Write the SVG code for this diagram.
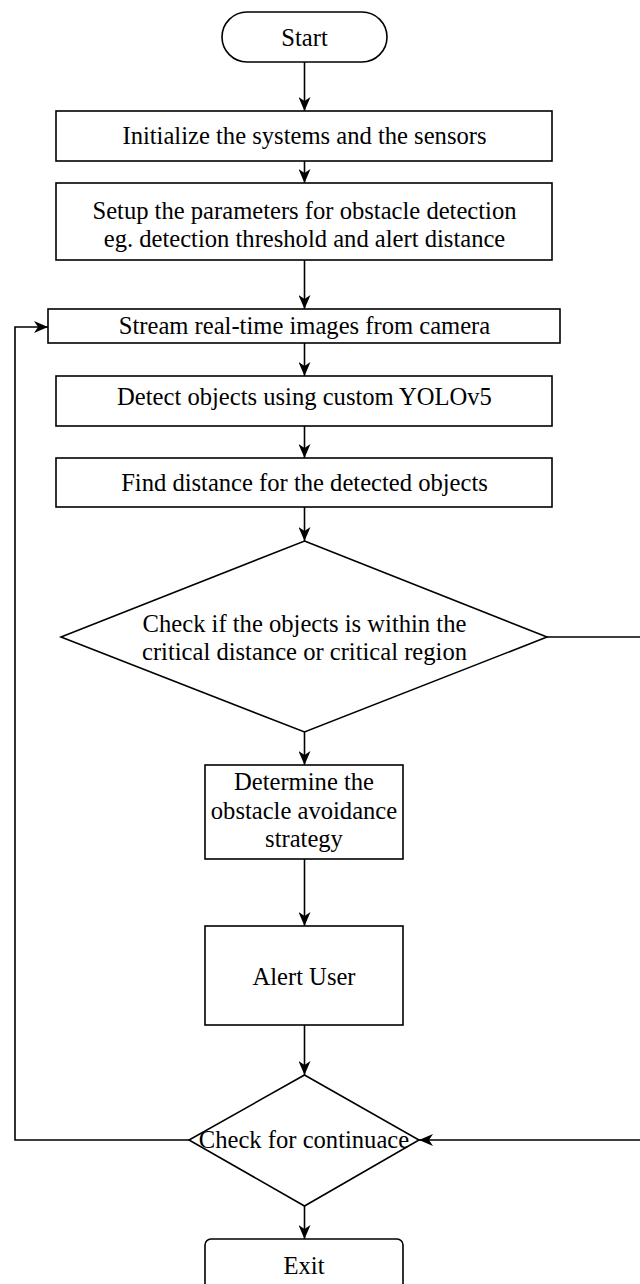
<svg xmlns="http://www.w3.org/2000/svg" width="640" height="1284" viewBox="0 0 640 1284">
  <style>
    .shape { fill: #ffffff; stroke: #000000; stroke-width: 1.6; }
    .label { font-family: "Liberation Serif", "Times New Roman", serif; font-size: 24.6px; fill: #000000; text-anchor: middle; }
    .edge { fill: none; stroke: #000000; stroke-width: 1.6; }
  </style>
  <defs>
    <marker id="arrow" viewBox="0 0 14 12" refX="14" refY="6" markerWidth="14" markerHeight="12" markerUnits="userSpaceOnUse" orient="auto">
      <path d="M0,0 L14,6 L0,12 L4,6 Z" fill="#000000"/>
    </marker>
  </defs>
  <rect width="640" height="1284" fill="#ffffff"/>

  <g id="connectors">
    <path class="edge" d="M304.5,62 V111" marker-end="url(#arrow)"/>
    <path class="edge" d="M304.5,161 V183" marker-end="url(#arrow)"/>
    <path class="edge" d="M304.5,260 V309" marker-end="url(#arrow)"/>
    <path class="edge" d="M304.5,343 V376" marker-end="url(#arrow)"/>
    <path class="edge" d="M304.5,426 V458" marker-end="url(#arrow)"/>
    <path class="edge" d="M304.5,507 V541" marker-end="url(#arrow)"/>
    <path class="edge" d="M304.5,732 V765" marker-end="url(#arrow)"/>
    <path class="edge" d="M304.5,859 V926" marker-end="url(#arrow)"/>
    <path class="edge" d="M304.5,1025 V1075" marker-end="url(#arrow)"/>
    <path class="edge" d="M304.5,1206 V1239" marker-end="url(#arrow)"/>
    <path class="edge" d="M547,637 H646 V1140 H419" marker-end="url(#arrow)"/>
    <path class="edge" d="M189,1140 H15 V327 H48" marker-end="url(#arrow)"/>
  </g>

  <g id="start">
    <rect class="shape" x="222" y="12" width="165" height="50" rx="25" ry="25"/>
    <text class="label" x="304.5" y="46">Start</text>
  </g>

  <g id="init">
    <rect class="shape" x="56" y="111" width="496" height="50"/>
    <text class="label" x="304.5" y="144">Initialize the systems and the sensors</text>
  </g>

  <g id="setup">
    <rect class="shape" x="56" y="183" width="496" height="77"/>
    <text class="label" x="304.5" y="219">Setup the parameters for obstacle detection</text>
    <text class="label" x="304.5" y="247">eg. detection threshold and alert distance</text>
  </g>

  <g id="stream">
    <rect class="shape" x="48" y="309" width="512" height="34"/>
    <text class="label" x="304.5" y="334">Stream real-time images from camera</text>
  </g>

  <g id="detect">
    <rect class="shape" x="56" y="376" width="496" height="50"/>
    <text class="label" x="304.5" y="405">Detect objects using custom YOLOv5</text>
  </g>

  <g id="distance">
    <rect class="shape" x="56" y="458" width="496" height="49"/>
    <text class="label" x="304.5" y="491">Find distance for the detected objects</text>
  </g>

  <g id="check-critical">
    <polygon class="shape" points="304.5,541 547,637 304.5,732 61,637"/>
    <text class="label" x="304.5" y="632">Check if the objects is within the</text>
    <text class="label" x="304.5" y="660">critical distance or critical region</text>
  </g>

  <g id="strategy">
    <rect class="shape" x="205" y="765" width="198" height="94"/>
    <text class="label" x="304" y="790">Determine the</text>
    <text class="label" x="304" y="819">obstacle avoidance</text>
    <text class="label" x="304" y="847">strategy</text>
  </g>

  <g id="alert">
    <rect class="shape" x="205" y="926" width="198" height="99"/>
    <text class="label" x="304" y="985">Alert User</text>
  </g>

  <g id="check-continue">
    <polygon class="shape" points="304.5,1075 419,1140 304.5,1206 189,1140"/>
    <text class="label" x="304" y="1148">Check for continuace</text>
  </g>

  <g id="exit">
    <rect class="shape" x="205" y="1239" width="198" height="60" rx="6" ry="6"/>
    <text class="label" x="304" y="1274">Exit</text>
  </g>
</svg>
